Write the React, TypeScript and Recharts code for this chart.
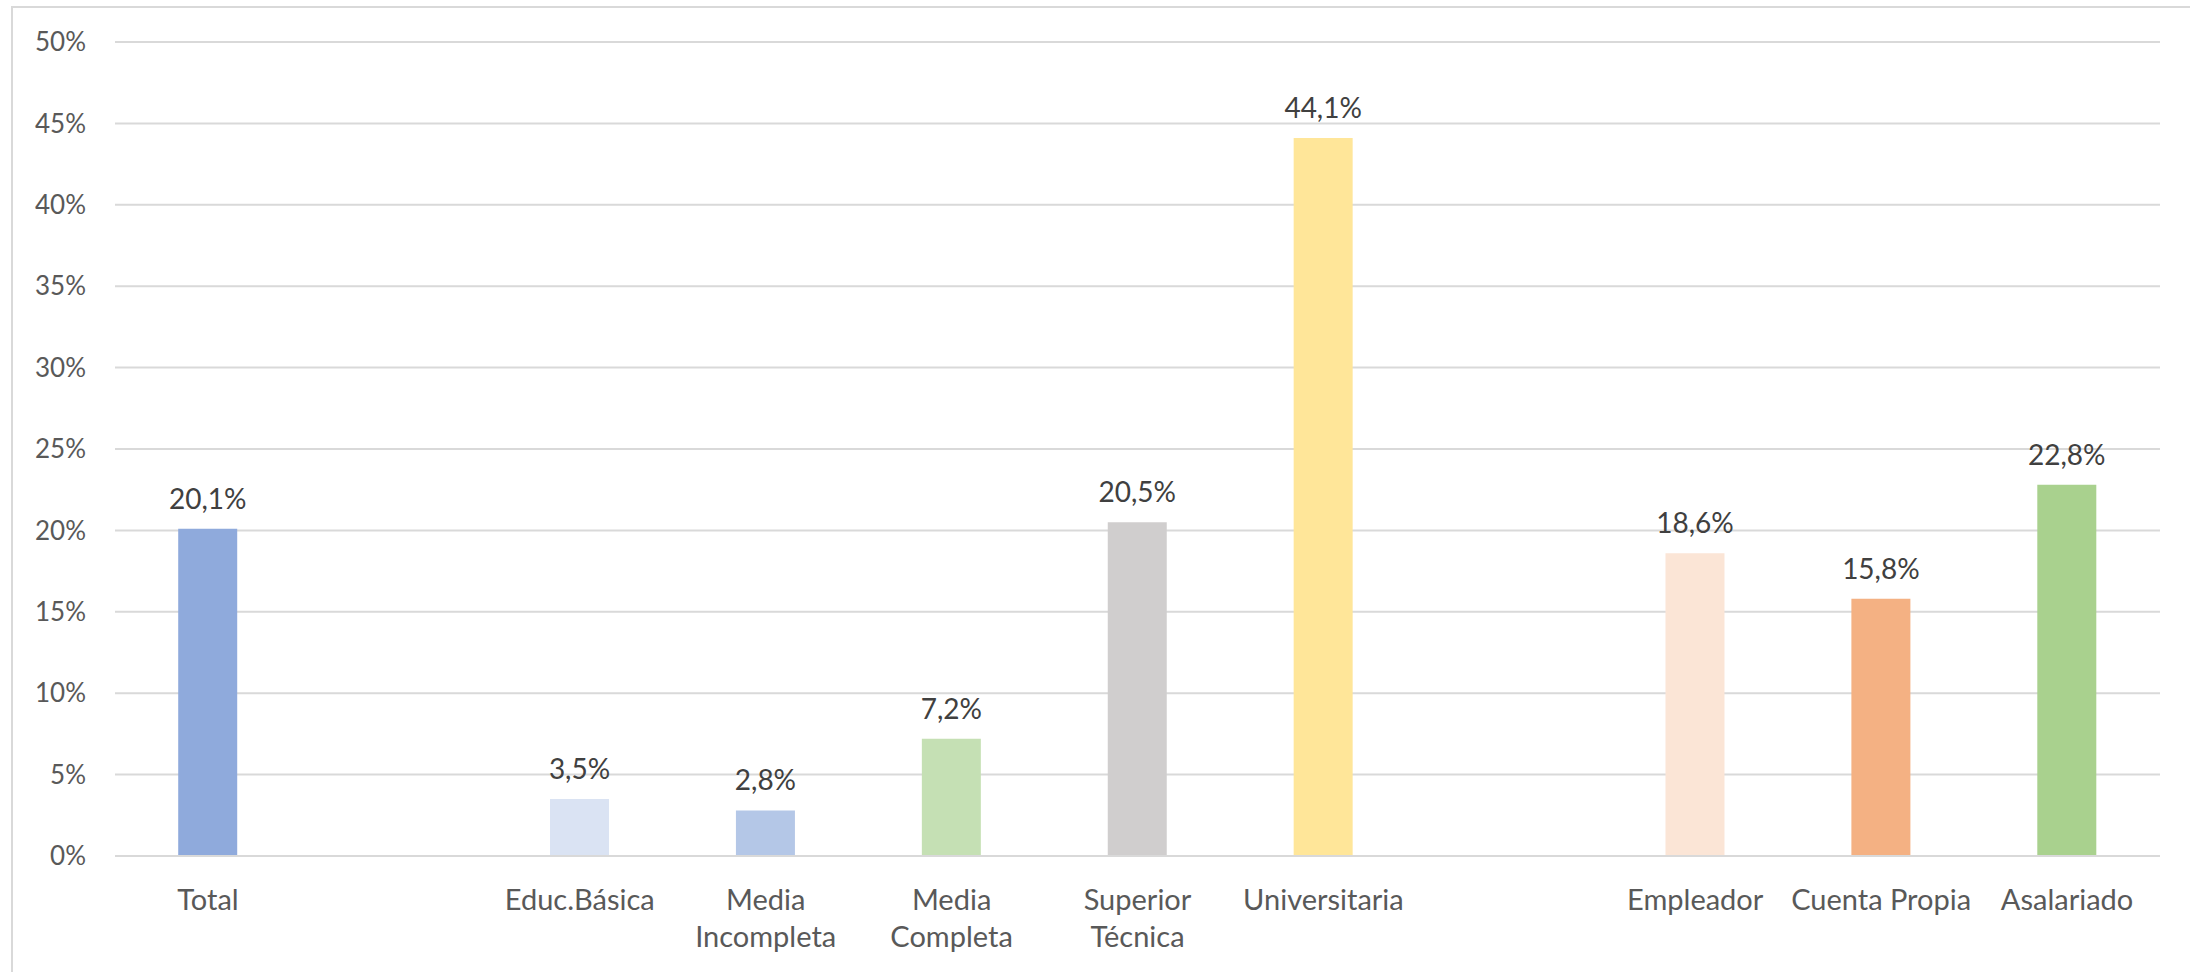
import { Bar, BarChart, CartesianGrid, Cell, LabelList, XAxis, YAxis } from 'recharts'

const categories = [
  'Total',
  ' ',
  'Educ.Básica',
  'Media\nIncompleta',
  'Media\nCompleta',
  'Superior\nTécnica',
  'Universitaria',
  '  ',
  'Empleador',
  'Cuenta Propia',
  'Asalariado',
]
const values: (number | null)[] = [20.1, null, 3.5, 2.8, 7.2, 20.5, 44.1, null, 18.6, 15.8, 22.8]
const colors = [
  '#8FAADC',
  '#FFFFFF',
  '#DAE3F3',
  '#B4C7E7',
  '#C5E0B4',
  '#D0CECE',
  '#FFE699',
  '#FFFFFF',
  '#FBE5D6',
  '#F4B183',
  '#A9D18E',
]
const yTicks = [0, 5, 10, 15, 20, 25, 30, 35, 40, 45, 50]

const FONT = 'Lato, "Open Sans", sans-serif'

const data = categories.map((name, i) => ({ name, value: values[i] }))

function CategoryTick({ x, y, payload }: any) {
  const lines = String(payload.value).split('\n')
  return (
    <g transform={`translate(${x},${y})`}>
      {lines.map((l, i) => (
        <text
          key={i}
          x={0}
          y={46 + i * 37}
          textAnchor="middle"
          fill="#595959"
          fontSize={29}
          fontFamily={FONT}
        >
          {l}
        </text>
      ))}
    </g>
  )
}

export default function App() {
  return (
    <div
      style={{
        position: 'absolute',
        left: 0,
        top: 0,
        width: 2190,
        height: 972,
        overflow: 'hidden',
        background: '#fff',
      }}
    >
      {/* chart frame, only top & left edges are visible */}
      <div
        style={{
          position: 'absolute',
          left: 11,
          top: 6,
          width: 2300,
          height: 1100,
          border: '2px solid #D9D9D9',
        }}
      />
      <BarChart
        width={2190}
        height={972}
        data={data}
        barCategoryGap="34%"
        margin={{ top: 42, right: 30, left: 15, bottom: 16 }}
        style={{ position: 'absolute', left: 0, top: 0 }}
      >
        <CartesianGrid vertical={false} stroke="#D9D9D9" strokeWidth={2} />
        <XAxis
          dataKey="name"
          height={100}
          interval={0}
          tickLine={false}
          axisLine={{ stroke: '#D9D9D9', strokeWidth: 2 }}
          tick={<CategoryTick />}
        />
        <YAxis
          width={100}
          domain={[0, 50]}
          ticks={yTicks}
          interval={0}
          axisLine={false}
          tickLine={false}
          tickMargin={23}
          tickFormatter={(v) => `${v}%`}
          tick={{ fill: '#595959', fontSize: 26, fontFamily: FONT }}
        />
        <Bar dataKey="value" isAnimationActive={false}>
          {data.map((_, i) => (
            <Cell key={i} fill={colors[i]} />
          ))}
          <LabelList
            dataKey="value"
            position="top"
            offset={20}
            fill="#404040"
            fontSize={28}
            fontFamily={FONT}
            formatter={(v: any) => (v == null ? '' : `${String(v).replace('.', ',')}%`)}
          />
        </Bar>
      </BarChart>
    </div>
  )
}
